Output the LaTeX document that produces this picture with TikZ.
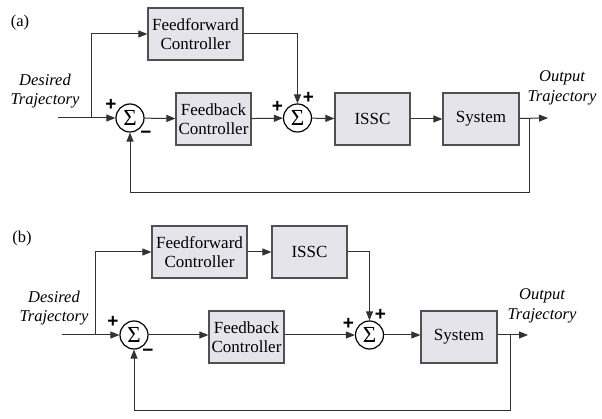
\documentclass[tikz,border=0pt]{standalone}
\usepackage{fontspec}
\setmainfont{Liberation Serif}
\newfontfamily\signfont{Liberation Sans}
\usetikzlibrary{arrows.meta}
\definecolor{boxfill}{RGB}{228,228,234}
\definecolor{boxline}{RGB}{80,80,80}
\definecolor{wire}{RGB}{50,50,50}
\begin{document}
\begin{tikzpicture}[x=1pt,y=-1pt,
	block/.style={draw=boxline,fill=boxfill,line width=1.2pt,minimum width=75pt,minimum height=52pt,align=center,inner sep=0pt,font=\fontsize{17}{19}\selectfont},
	sum/.style={draw=black,circle,line width=1.2pt,minimum size=28pt,inner sep=0pt,font=\fontsize{23}{23}\selectfont},
	sign/.style={inner sep=0pt,font=\signfont\bfseries\fontsize{19}{19}\selectfont},
	lbl/.style={align=center,inner sep=0pt,font=\itshape\fontsize{16.5}{19.5}\selectfont},
	tag/.style={inner sep=0pt,font=\fontsize{16.5}{18}\selectfont},
	sig/.style={draw=wire,line width=1pt,-{Triangle[length=9pt,width=7pt]}},
	wire/.style={draw=wire,line width=1pt}]
	\useasboundingbox (0,0) rectangle (602,419);

	% (a)
	\node[tag] at (20,23) (taga) {(a)};
	\node[block,minimum width=95pt] at (195.5,34) (ffa) {Feedforward\\Controller};
	\node[sum] at (130,118) (s1a) {Σ};
	\node[block] at (213.5,119) (fba) {Feedback\\Controller};
	\node[sum] at (297.5,118) (s2a) {Σ};
	\node[block] at (372.5,119) (ssa) {ISSC};
	\node[block,minimum width=76pt] at (481,119) (sya) {System};
	\node[lbl] at (45,91) (ina-lbl) {Desired\\Trajectory};
	\node[lbl] at (562,88) (outa-lbl) {Output\\Trajectory};
	\node[sign] at ([shift={(-19,-13)}]s1a.center) (p1a) {+};
	\node[sign] at ([shift={(16,17)}]s1a.center) (m1a) {\textminus};
	\node[sign] at ([shift={(-20,-11)}]s2a.center) (p2a) {+};
	\node[sign] at ([shift={(11,-20)}]s2a.center) (p3a) {+};
	\coordinate (ina) at (58,118);
	\coordinate (bra) at (91,118);
	\coordinate (outa) at (548,118);
	\coordinate (boa) at (529,118);
	\coordinate (fda) at (529,193);

	\draw[sig]	(ina) -- (s1a);
	\draw[sig]	(bra) |- (ffa);
	\draw[sig]	(s1a) -- (fba);
	\draw[sig]	(fba) -- (s2a);
	\draw[sig]	(ffa) -| (s2a);
	\draw[sig]	(s2a) -- (ssa);
	\draw[sig]	(ssa) -- (sya);
	\draw[sig]	(sya) -- (outa);
	\draw[sig]	(boa) -- (fda) -| (s1a);

	% (b)
	\node[tag] at (22,239) (tagb) {(b)};
	\node[block,minimum width=95pt] at (199.5,252) (ffb) {Feedforward\\Controller};
	\node[block] at (309.5,252) (ssb) {ISSC};
	\node[sum] at (134,335) (s1b) {Σ};
	\node[block] at (246.5,337) (fbb) {Feedback\\Controller};
	\node[sum] at (369.5,335) (s2b) {Σ};
	\node[block,minimum width=76pt] at (459,337) (syb) {System};
	\node[lbl] at (54,308) (inb-lbl) {Desired\\Trajectory};
	\node[lbl] at (542,306) (outb-lbl) {Output\\Trajectory};
	\node[sign] at ([shift={(-21,-13)}]s1b.center) (p1b) {+};
	\node[sign] at ([shift={(14,18)}]s1b.center) (m1b) {\textminus};
	\node[sign] at ([shift={(-21,-11)}]s2b.center) (p2b) {+};
	\node[sign] at ([shift={(11,-20)}]s2b.center) (p3b) {+};
	\coordinate (inb) at (62,335);
	\coordinate (brb) at (95,335);
	\coordinate (outb) at (528,335);
	\coordinate (bob) at (510,335);
	\coordinate (fdb) at (510,410);

	\draw[sig]	(inb) -- (s1b);
	\draw[sig]	(brb) |- (ffb);
	\draw[sig]	(ffb) -- (ssb);
	\draw[sig]	(ssb) -| (s2b);
	\draw[sig]	(s1b) -- (fbb.west |- s1b);
	\draw[sig]	(fbb.east |- s2b) -- (s2b);
	\draw[sig]	(s2b) -- (syb.west |- s2b);
	\draw[sig]	(syb.east |- s2b) -- (outb);
	\draw[sig]	(bob) -- (fdb) -| (s1b);
\end{tikzpicture}
\end{document}
